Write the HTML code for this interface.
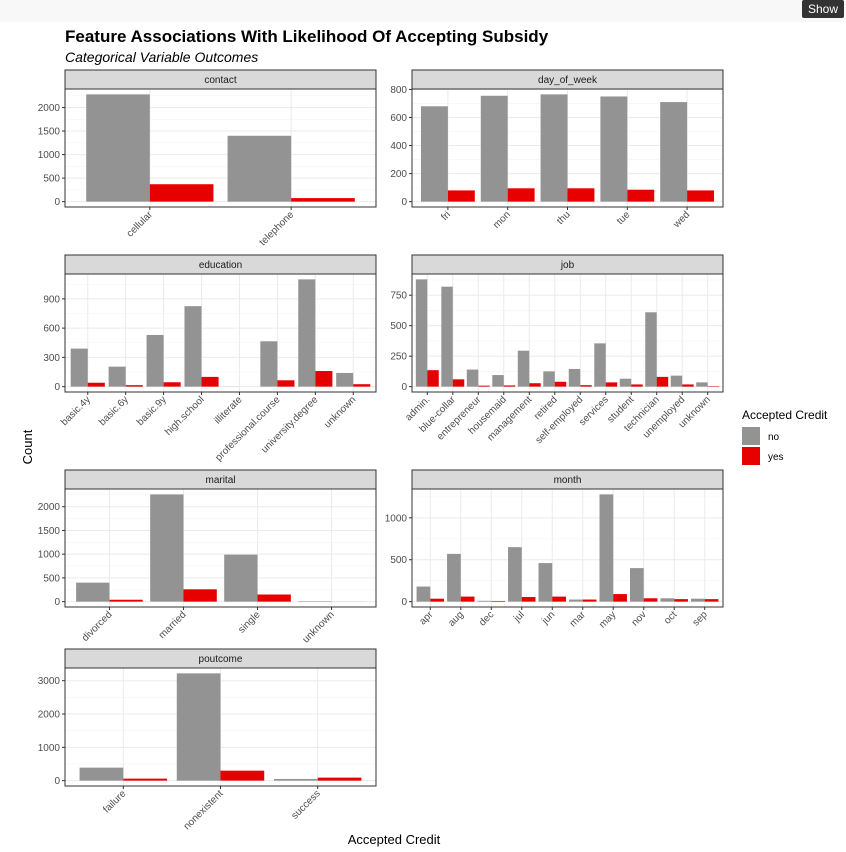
<!DOCTYPE html>
<html><head><meta charset="utf-8"><style>
body{margin:0;width:846px;height:852px;background:#fff;overflow:hidden;font-family:"Liberation Sans",sans-serif}
#topbar{position:absolute;left:0;top:0;width:846px;height:22px;background:#f8f8f8}
#show{position:absolute;left:802px;top:0;width:42px;height:18px;background:#333;color:#fff;font-size:12px;text-align:center;line-height:18px;border-radius:2px}
svg{position:absolute;left:0;top:0}
</style></head><body>
<div id="topbar"></div>
<div id="show">Show</div>
<svg id="c" width="846" height="852"></svg>
<script>
const contactCats=["cellular","telephone"];
const contactNo=[2280,1400];
const contactYes=[370,75];
const dowCats=["fri","mon","thu","tue","wed"];
const dowNo=[680,755,765,750,710];
const dowYes=[80,95,95,85,80];
const eduCats=["basic.4y","basic.6y","basic.9y","high.school","illiterate","professional.course","university.degree","unknown"];
const eduNo=[390,205,530,825,1,465,1100,140];
const eduYes=[40,15,45,100,0,65,160,25];
const jobCats=["admin.","blue-collar","entrepreneur","housemaid","management","retired","self-employed","services","student","technician","unemployed","unknown"];
const jobNo=[880,820,140,95,295,125,145,355,65,610,90,35];
const jobYes=[135,60,8,10,28,40,12,35,18,80,18,4];
const maritalCats=["divorced","married","single","unknown"];
const maritalNo=[400,2260,990,10];
const maritalYes=[40,260,150,1];
const monthCats=["apr","aug","dec","jul","jun","mar","may","nov","oct","sep"];
const monthNo=[180,570,10,650,460,25,1280,400,40,35];
const monthYes=[35,60,8,55,60,25,90,40,30,30];
const poutCats=["failure","nonexistent","success"];
const poutNo=[390,3220,50];
const poutYes=[60,300,90];
const yTicksContact=[0,500,1000,1500,2000];
const yTicksDow=[0,200,400,600,800];
const yTicksEdu=[0,300,600,900];
const yTicksJob=[0,250,500,750];
const yTicksMarital=[0,500,1000,1500,2000];
const yTicksMonth=[0,500,1000];
const yTicksPout=[0,1000,2000,3000];

const NS="http://www.w3.org/2000/svg";
const svg=document.getElementById('c');
function mk(tag,attrs,parent,text){const e=document.createElementNS(NS,tag);for(const k in attrs)e.setAttribute(k,attrs[k]);if(text!==undefined)e.textContent=text;(parent||svg).appendChild(e);return e;}

function panel(name,x0,y0,w,cats,no,yes,ticks){
  const g=mk('g',{});
  
  
  const stripH=19, top=y0+stripH, h=118;
  const st=mk('rect',{x:x0,y:y0,width:w,height:stripH,fill:'#d9d9d9',stroke:'#333','stroke-width':1},g);
  
  
  const stt=mk('text',{x:x0+w/2,y:y0+13,'font-size':10,'text-anchor':'middle',fill:'#1a1a1a'},g,name);
  
  
  const mx=Math.max(...no,...yes);
  const lo=-0.05*mx, hi=1.05*mx;
  const y=v=>top+h-(v-lo)/(hi-lo)*h;
  const n=cats.length, lo2=0.4, hi2=n+0.6;
  const x=v=>x0+(v-lo2)/(hi2-lo2)*w;
  // minor grid
  for(let i=0;i<ticks.length-1;i++){const m=(ticks[i]+ticks[i+1])/2;mk('line',{x1:x0,x2:x0+w,y1:y(m),y2:y(m),stroke:'#f4f4f4','stroke-width':0.6},g);}
  const step=ticks[1]-ticks[0];const last=ticks[ticks.length-1]+step/2;
  if(y(last)>top) mk('line',{x1:x0,x2:x0+w,y1:y(last),y2:y(last),stroke:'#f4f4f4','stroke-width':0.6},g);
  ticks.forEach(t=>{
    mk('line',{x1:x0,x2:x0+w,y1:y(t),y2:y(t),stroke:'#ebebeb','stroke-width':1},g);
    mk('line',{x1:x0-3,x2:x0,y1:y(t),y2:y(t),stroke:'#333','stroke-width':1},g);
    const tl=mk('text',{x:x0-5,y:y(t)+3.5,'font-size':10,'text-anchor':'end',fill:'#4d4d4d'},g,String(t));
    
    
  });
  cats.forEach((c,i)=>{
    const cx=x(i+1);
    mk('line',{x1:cx,x2:cx,y1:top,y2:top+h,stroke:'#ebebeb','stroke-width':1},g);
  });
  cats.forEach((c,i)=>{
    const cx=x(i+1), bw=x(0.45)-x(0);
    const b1=mk('rect',{x:cx-bw,y:y(no[i]),width:bw,height:y(0)-y(no[i]),fill:'#939393'},g);
    
    
    const b2=mk('rect',{x:cx,y:y(yes[i]),width:bw,height:y(0)-y(yes[i]),fill:'#e60000'},g);
    
    
    mk('line',{x1:cx,x2:cx,y1:top+h,y2:top+h+3,stroke:'#333','stroke-width':1},g);
    const tl=mk('text',{x:cx+3,y:top+h+8,'font-size':10,'text-anchor':'end',fill:'#4d4d4d',transform:`rotate(-45 ${cx+3} ${top+h+8})`},g,c);
    
    
  });
  mk('rect',{x:x0,y:top,width:w,height:h,fill:'none',stroke:'#333','stroke-width':1},g);
}
panel('contact',65,70,311,contactCats,contactNo,contactYes,yTicksContact);
panel('day_of_week',412,70,311,dowCats,dowNo,dowYes,yTicksDow);
panel('education',65,255,311,eduCats,eduNo,eduYes,yTicksEdu);
panel('job',412,255,311,jobCats,jobNo,jobYes,yTicksJob);
panel('marital',65,470,311,maritalCats,maritalNo,maritalYes,yTicksMarital);
panel('month',412,470,311,monthCats,monthNo,monthYes,yTicksMonth);
panel('poutcome',65,649,311,poutCats,poutNo,poutYes,yTicksPout);

let t=mk('text',{x:65,y:42,'font-size':17,'font-weight':'bold',fill:'#000'},svg,'Feature Associations With Likelihood Of Accepting Subsidy');


t=mk('text',{x:65,y:62,'font-size':14,'font-style':'italic',fill:'#000'},svg,'Categorical Variable Outcomes');


t=mk('text',{x:32,y:447,'font-size':13,'text-anchor':'middle',fill:'#000',transform:'rotate(-90 32 447)'},svg,'Count');


t=mk('text',{x:394,y:844,'font-size':13,'text-anchor':'middle',fill:'#000'},svg,'Accepted Credit');


t=mk('text',{x:742,y:419,'font-size':12,fill:'#000'},svg,'Accepted Credit');


let r=mk('rect',{x:742,y:427,width:18,height:18,fill:'#939393'},svg);


r=mk('rect',{x:742,y:447,width:18,height:18,fill:'#e60000'},svg);


t=mk('text',{x:768,y:440,'font-size':10,fill:'#000'},svg,'no');


t=mk('text',{x:768,y:460,'font-size':10,fill:'#000'},svg,'yes');


</script>
</body></html>
